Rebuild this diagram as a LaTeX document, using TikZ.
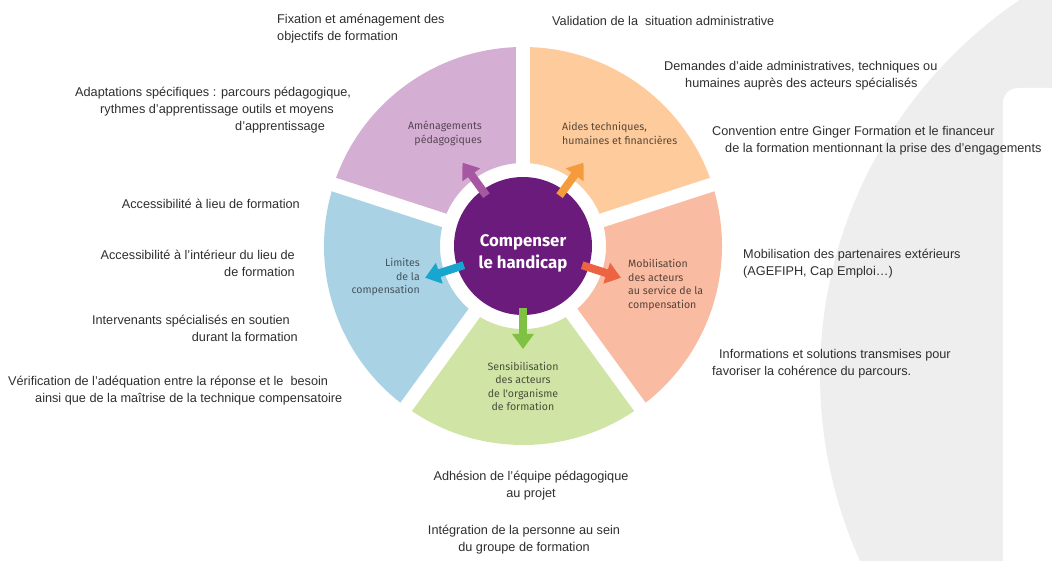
\documentclass[tikz,border=0pt]{standalone}
\usepackage{fontspec}
\setmainfont{Liberation Sans}
\newfontfamily\dinfont{Fira Sans}
\usepackage{tikz}
\usetikzlibrary{arrows.meta,calc,positioning}
\definecolor{segPurple}{HTML}{D5AED3}
\definecolor{segOrange}{HTML}{FDCB9C}
\definecolor{segSalmon}{HTML}{F9BCA2}
\definecolor{segGreen}{HTML}{D0E4A6}
\definecolor{segBlue}{HTML}{A9D3E5}
\definecolor{hubPurple}{HTML}{6B1B7B}
\definecolor{arPurple}{HTML}{A757A2}
\definecolor{arOrange}{HTML}{F59B3B}
\definecolor{arRed}{HTML}{EC6441}
\definecolor{arGreen}{HTML}{7EC143}
\definecolor{arBlue}{HTML}{18A6CE}
\definecolor{bgGray}{HTML}{EEEEEE}
\definecolor{txtGray}{HTML}{2E2E2E}

\begin{document}
\begin{tikzpicture}[x=1pt,y=1pt,
  note/.style={inner sep=0pt,text=txtGray,font=\fontsize{12.7}{17}\selectfont},
  seglbl/.style={inner sep=0pt,font=\dinfont\fontsize{10.6}{13.5}\selectfont},
  fatarrow/.style={line width=8pt,-{Triangle[width=21pt,length=15pt]},shorten <=-7pt}]
\useasboundingbox (0,0) rectangle (1052,560);
\fill[bgGray] (1280,185) ellipse [x radius=460,y radius=455];
\fill[white,rounded corners=15pt] (1003,-30) rectangle (1090,472);

\coordinate (o) at (523,314);
\foreach \s/\col in {90/segPurple,18/segOrange,-54/segSalmon,-126/segGreen,162/segBlue}
  \fill[\col] ([shift={(\s:83)}]o) -- ([shift={(\s:199)}]o) arc[start angle=\s,end angle=\s+72,radius=199]
    -- ([shift={(\s+72:83)}]o) arc[start angle=\s+72,end angle=\s,radius=83] -- cycle;
\foreach \a in {90,18,-54,-126,162}
  \draw[white,line width=14pt] (o) -- ([shift={(\a:210)}]o);

\node (hub) at (o) [circle,fill=hubPurple,minimum size=138pt,inner sep=0pt] {};
\node (title) at ([yshift=-7pt]hub.center) [text=white,align=center,inner sep=0pt,
  font=\dinfont\bfseries\fontsize{16.8}{22}\selectfont] {Compenser\\le handicap};
\foreach \a/\col in {126/arPurple,54/arOrange,-18/arRed,-90/arGreen,198/arBlue}
  \draw[fatarrow,\col] (hub.\a) -- ([shift={(\a:103)}]hub.center);

\node (amen) at (482,426.5) [seglbl,anchor=east,align=right,text=segPurple!40!black] {Aménagements\\pédagogiques};
\node (aides) at (562,426.5) [seglbl,anchor=west,align=left,text=segOrange!35!black] {Aides techniques,\\humaines et financières};
\node (limit) at (420,283) [seglbl,anchor=east,align=right,text=segBlue!40!black] {Limites\\de la\\compensation};
\node (mobseg) at (628,275) [seglbl,anchor=west,align=left,text=segSalmon!35!black] {Mobilisation\\des acteurs\\au service de la\\compensation};
\node (sensib) at (523,173.5) [seglbl,align=center,text=segGreen!35!black] {Sensibilisation\\des acteurs\\de l'organisme\\de formation};

\node (fix) at (277,531) [note,anchor=west,align=left] {Fixation et aménagement des\\objectifs de formation};
\node (adapt) at (75,450) [note,anchor=west,align=left] {Adaptations spécifiques : parcours pédagogique,\\\hspace*{25pt}rythmes d’apprentissage outils et moyens\\\hspace*{160pt}d’apprentissage};
\node (acc1) at (300,356) [note,anchor=east] {Accessibilité à lieu de formation};
\node (acc2) at (295,296.5) [note,anchor=east,align=right] {Accessibilité à l’intérieur du lieu de\\de formation};
\node (interv) at (298,231.5) [note,anchor=east,align=right] {Intervenants spécialisés en soutien\hspace*{8pt}\\durant la formation};
\node (verif) at (8,169.5) [note,anchor=west,align=left] {Vérification de l’adéquation entre la réponse et le\ \ besoin\\\hspace*{27pt}ainsi que de la maîtrise de la technique compensatoire};

\node (valid) at (552,539) [note,anchor=west] {Validation de la\ \ situation administrative};
\node (demand) at (664,484.5) [note,anchor=west,align=left] {Demandes d’aide administratives, techniques ou\\\hspace*{21pt}humaines auprès des acteurs spécialisés};
\node (conv) at (712,419.5) [note,anchor=west,align=left] {Convention entre Ginger Formation et le financeur\\\hspace*{13pt}de la formation mentionnant la prise des d’engagements};
\node (partn) at (743,296.5) [note,anchor=west,align=left] {Mobilisation des partenaires extérieurs\\(AGEFIPH, Cap Emploi…)};
\node (info) at (712,196.5) [note,anchor=west,align=left] {\hspace*{7pt}Informations et solutions transmises pour\\favoriser la cohérence du parcours.};

\node (adhes) at (531,74.5) [note,align=center] {Adhésion de l’équipe pédagogique\\au projet};
\node (integ) at (524,20.5) [note,align=center] {Intégration de la personne au sein\\du groupe de formation};
\end{tikzpicture}
\end{document}
